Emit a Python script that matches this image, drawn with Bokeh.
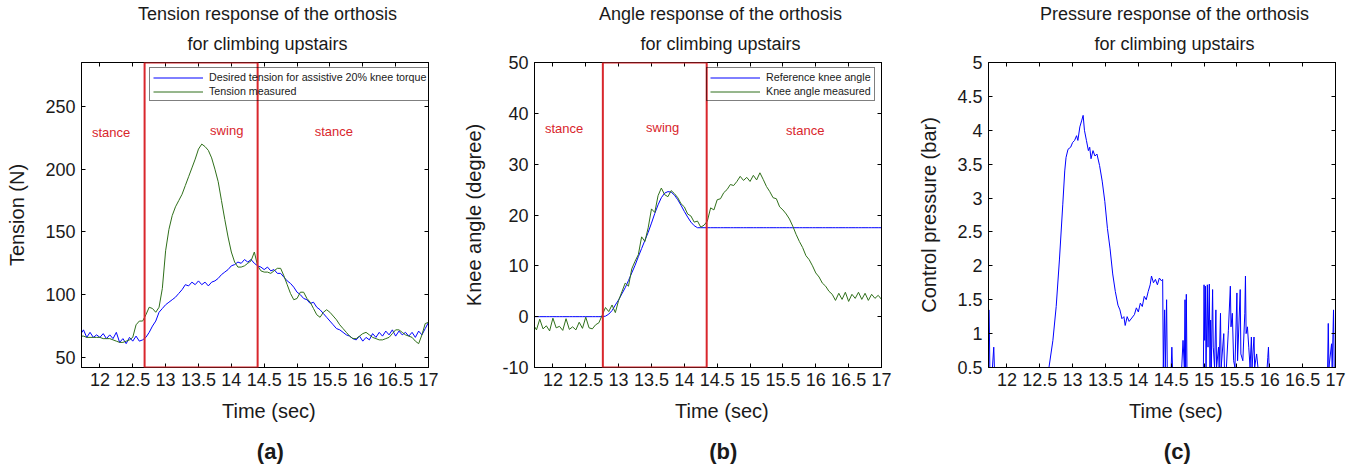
import numpy as np
from bokeh.plotting import figure
from bokeh.models import (LinearAxis, Title, Label, BoxAnnotation, Legend, LegendItem,
                          FixedTicker, NumeralTickFormatter, Range1d, CustomJSTickFormatter)
from bokeh.layouts import row
from bokeh.embed import file_html
from bokeh.resources import INLINE

FONT = "Liberation Sans"

# ---------------- data ----------------
SAMPLE_START, SAMPLE_END, SAMPLE_STEP = 11.70, 17.00, 0.05
time_s = np.round(np.arange(SAMPLE_START, SAMPLE_END + 1e-9, SAMPLE_STEP), 2)

tension_desired = [
    68, 72, 66, 70, 66, 68, 66, 69, 65, 68,
    65, 70, 62, 65, 61, 66, 63, 67, 63, 64,
    66, 70, 75, 79, 86, 89, 92, 94, 96, 98,
    101, 104, 108, 107, 110, 108, 111, 108, 110, 107,
    110, 111, 113, 116, 118, 120, 123, 124, 126, 125,
    128, 126, 128, 125, 123, 122, 120, 122, 119, 120,
    117, 117, 114, 111, 109, 106, 102, 100, 97, 96,
    93, 94, 90, 88, 85, 82, 79, 76, 73, 72,
    70, 68, 67, 65, 64, 67, 63, 66, 64, 69,
    66, 70, 67, 71, 68, 72, 67, 71, 68, 70,
    67, 70, 66, 71, 68, 73, 78]

tension_measured = [
    67, 67, 66, 66, 66, 66, 66, 65, 65, 65,
    64, 63, 62, 62, 63, 64, 66, 76, 79, 79,
    84, 90, 89, 86, 90, 105, 135, 152, 163, 170,
    175, 180, 187, 194, 201, 208, 216, 220, 218, 215,
    209, 200, 190, 175, 160, 146, 134, 126, 122, 122,
    123, 125, 127, 134, 123, 119, 118, 118, 117, 119,
    121, 121, 115, 108, 101, 96, 97, 102, 102, 97,
    94, 89, 84, 82, 86, 88, 86, 83, 80, 76,
    73, 70, 67, 65, 65, 67, 69, 70, 68, 66,
    65, 64, 64, 65, 66, 69, 72, 72, 70, 68,
    67, 66, 63, 61, 68, 77, 78]

angle_reference = [
    0, 0, 0, 0, 0, 0, 0, 0, 0, 0,
    0, 0, 0, 0, 0, 0, 0, 0, 0, 0,
    0, 0, 0.1, 0.5, 1.2, 2.3, 3.3, 4.5, 5.7, 7.1,
    8.6, 10.1, 11.8, 13.4, 15.0, 16.6, 18.4, 20.3, 22.0, 23.4,
    24.3, 24.6, 24.5, 23.9, 23.0, 21.9, 20.7, 19.6, 18.6, 17.9,
    17.5, 17.5, 17.5, 17.5, 17.5, 17.5, 17.5, 17.5, 17.5, 17.5,
    17.5, 17.5, 17.5, 17.5, 17.5, 17.5, 17.5, 17.5, 17.5, 17.5,
    17.5, 17.5, 17.5, 17.5, 17.5, 17.5, 17.5, 17.5, 17.5, 17.5,
    17.5, 17.5, 17.5, 17.5, 17.5, 17.5, 17.5, 17.5, 17.5, 17.5,
    17.5, 17.5, 17.5, 17.5, 17.5, 17.5, 17.5, 17.5, 17.5, 17.5,
    17.5, 17.5, 17.5, 17.5, 17.5, 17.5, 17.5]

angle_measured = [
    -1.5, -2.6, -0.5, -2.4, -1.8, -2.8, -0.3, -2.2, -1.9, -2.7,
    -0.4, -2.5, -2.0, -2.6, -1.1, -2.3, -0.1, -2.2, -2.4, -1.6,
    -1.2, 0.3, 1.8, 1.0, 2.3, 0.8, 3.2, 4.9, 6.6, 6.0,
    9.4, 10.9, 12.2, 15.7, 14.8, 17.5, 21.2, 20.5, 23.8, 25.3,
    24.0, 23.6, 24.8, 24.2, 23.4, 22.2, 21.6, 20.2, 19.8, 18.6,
    18.8, 17.6, 18.0, 18.8, 21.4, 21.0, 23.0, 23.2, 24.4, 25.0,
    26.0, 25.8, 26.6, 27.6, 26.8, 27.4, 26.6, 27.8, 26.9, 28.3,
    27.0, 25.6, 24.6, 23.4, 23.2, 21.6, 21.0, 20.2, 19.2, 17.8,
    16.2, 14.8, 13.6, 12.0, 11.2, 10.0, 8.6, 7.8, 6.6, 6.0,
    5.0, 4.4, 3.2, 4.6, 3.4, 4.8, 3.0, 4.4, 3.6, 4.8,
    3.4, 4.6, 3.2, 4.4, 3.6, 4.2, 3.4]

pressure_time = [
    11.73, 11.74, 11.76, 11.78, 11.80, 11.81, 12.64, 12.70, 12.75, 12.80,
    12.85, 12.88, 12.90, 12.93, 12.97, 13.00, 13.03, 13.06, 13.08, 13.11,
    13.14, 13.16, 13.18, 13.21, 13.24, 13.26, 13.28, 13.31, 13.34, 13.37,
    13.41, 13.45, 13.49, 13.53, 13.57, 13.61, 13.65, 13.69, 13.72, 13.75,
    13.78, 13.80, 13.83, 13.86, 13.90, 13.94, 13.97, 14.00, 14.03, 14.06,
    14.09, 14.12, 14.15, 14.18, 14.20, 14.23, 14.26, 14.29, 14.32, 14.35,
    14.37, 14.38, 14.40, 14.41, 14.43, 14.44, 14.50, 14.51, 14.52, 14.66,
    14.68, 14.70, 14.71, 14.72, 14.73, 14.74, 14.99, 15.00, 15.01, 15.02,
    15.03, 15.05, 15.06, 15.08, 15.09, 15.10, 15.11, 15.13, 15.14, 15.16,
    15.18, 15.19, 15.22, 15.23, 15.25, 15.26, 15.30, 15.31, 15.34, 15.37,
    15.40, 15.41, 15.43, 15.45, 15.47, 15.50, 15.51, 15.55, 15.56, 15.59,
    15.62, 15.63, 15.64, 15.66, 15.68, 15.70, 15.72, 15.73, 15.76, 15.77,
    15.80, 15.82, 15.96, 15.97, 15.98, 15.99, 16.88, 16.89, 16.90, 16.94,
    16.95, 16.97, 16.98, 17.00]
pressure_bar = [
    1.35, 0.5, 0.5, 0.5, 0.8, 0.5, 0.5, 0.9, 1.4, 2.1,
    2.9, 3.4, 3.6, 3.72, 3.75, 3.82, 3.85, 3.92, 3.85, 4.05,
    4.15, 4.22, 4.0, 3.85, 3.7, 3.75, 3.58, 3.7, 3.62, 3.65,
    3.48, 3.25, 2.95, 2.55, 2.25, 1.88, 1.62, 1.42, 1.35, 1.22,
    1.25, 1.12, 1.25, 1.18, 1.23, 1.28, 1.38, 1.32, 1.45, 1.40,
    1.55, 1.50, 1.62, 1.72, 1.85, 1.75, 1.80, 1.72, 1.82, 1.78,
    1.80, 0.5, 1.35, 0.5, 1.5, 0.5, 0.5, 0.8, 0.5, 0.5,
    0.9, 0.5, 1.5, 0.5, 1.58, 0.5, 0.5, 1.72, 0.9, 1.7,
    0.5, 1.72, 0.8, 1.73, 0.5, 1.2, 0.5, 1.65, 0.8, 0.5,
    1.35, 0.5, 0.8, 0.5, 1.3, 0.5, 1.0, 0.5, 0.5, 1.05,
    1.7, 1.1, 1.3, 0.6, 0.5, 1.6, 0.6, 1.65, 0.7, 0.6,
    1.3, 1.85, 1.0, 1.1, 0.8, 0.5, 0.95, 0.5, 0.95, 0.5,
    0.7, 0.5, 0.5, 0.65, 0.8, 0.5, 0.5, 1.15, 0.5, 0.85,
    0.5, 1.35, 0.5, 0.5]

x_ticks = [12, 12.5, 13, 13.5, 14, 14.5, 15, 15.5, 16, 16.5, 17]
x_limits = (11.72, 17.0)

swing_a = (12.68, 14.40)
swing_b = (12.76, 14.34)
phase_labels = ["stance", "swing", "stance"]
phase_x_a = [12.17, 13.93, 15.56]
phase_y_a = [229, 231, 230]
phase_x_b = [12.17, 13.67, 15.84]
phase_y_b = [37, 37.2, 36.6]

BLUE = "#0000FF"
GREEN = "#2F6F1A"
RED = "#D9262C"
TXT = "#1a1a1a"

FRAME_W = 347
PAD = "\u00a0" * 5   # leading no-break spaces: shifts centred titles slightly right, as in the original


def title(text, size, standoff, style="normal"):
    return Title(text=PAD + text, align="center", text_font=FONT, text_font_size=size,
                 text_font_style=style, text_color=TXT, standoff=standoff)


def make_fig(title1, title2, ylabel, ylim, yticks, letter, left_border, right_border):
    p = figure(width=left_border + FRAME_W + right_border, height=471,
               x_range=Range1d(*x_limits), y_range=Range1d(*ylim),
               output_backend="svg", toolbar_location=None, title=None,
               min_border_left=left_border, min_border_right=right_border,
               min_border_top=62, min_border_bottom=104)
    p.grid.visible = False
    p.outline_line_color = "black"
    p.background_fill_color = "white"
    p.border_fill_color = "white"
    for ax in p.xaxis:
        ax.ticker = FixedTicker(ticks=x_ticks)
        ax.formatter = NumeralTickFormatter(format="0.[0]")
        ax.major_label_standoff = 5
    for ax in p.yaxis:
        ax.ticker = FixedTicker(ticks=yticks)
        ax.formatter = NumeralTickFormatter(format="0.[0]")
        ax.axis_label = ylabel
        ax.axis_label_text_font = FONT
        ax.axis_label_text_font_size = "20px"
        ax.axis_label_text_font_style = "normal"
        ax.axis_label_text_color = TXT
        ax.axis_label_standoff = 14
        ax.major_label_standoff = 6
    for ax in list(p.xaxis) + list(p.yaxis):
        ax.major_tick_in = 4
        ax.major_tick_out = 0
        ax.minor_tick_line_color = None
        ax.axis_line_color = "black"
        ax.major_label_text_font = FONT
        ax.major_label_text_font_size = "18px"
        ax.major_label_text_color = TXT
    # box ticks on top / right (no labels)
    blank = CustomJSTickFormatter(code="return ''")
    top = LinearAxis(ticker=FixedTicker(ticks=x_ticks), formatter=blank,
                     major_tick_in=4, major_tick_out=0, minor_tick_line_color=None,
                     major_label_standoff=0)
    right = LinearAxis(ticker=FixedTicker(ticks=yticks), formatter=blank,
                       major_tick_in=4, major_tick_out=0, minor_tick_line_color=None,
                       major_label_standoff=0)
    p.add_layout(top, "above")
    p.add_layout(right, "right")
    p.add_layout(title(title2, "18px", 17), "above")
    p.add_layout(title(title1, "18px", 0), "above")
    p.add_layout(title("Time (sec)", "20px", 18), "below")
    p.add_layout(title(letter, "22px", 13, "bold"), "below")
    return p


def add_phases(p, swing, xs, ys):
    p.add_layout(BoxAnnotation(left=swing[0], right=swing[1], fill_alpha=0,
                               line_color=RED, line_alpha=1, line_width=2))
    for lab, x, y in zip(phase_labels, xs, ys):
        p.add_layout(Label(x=x, y=y, text=lab, text_align="center", text_baseline="middle",
                           text_font=FONT, text_font_size="13px", text_color=RED))


def add_legend(p, items, loc):
    lg = Legend(items=items, location=loc, label_text_font=FONT, label_text_font_size="10.7px",
                label_text_color=TXT, glyph_width=50, glyph_height=11, label_height=11,
                spacing=2, padding=3, margin=0, label_standoff=6,
                border_line_color="black", border_line_width=1.5,
                background_fill_alpha=0)
    p.add_layout(lg)


# Panel (a)
pa = make_fig("Tension response of the orthosis", "for climbing upstairs", "Tension (N)",
              (42, 285), [50, 100, 150, 200, 250], "(a)", 81, 25)
ra1 = pa.line(time_s, tension_desired, line_color=BLUE, line_width=1)
ra2 = pa.line(time_s, tension_measured, line_color=GREEN, line_width=1)
add_phases(pa, swing_a, phase_x_a, phase_y_a)
add_legend(pa, [LegendItem(label="Desired tension for assistive 20% knee torque", renderers=[ra1]),
                LegendItem(label="Tension measured", renderers=[ra2])], (68, 266))

# Panel (b)
pb = make_fig("Angle response of the orthosis", "for climbing upstairs", "Knee angle (degree)",
              (-10, 50), [-10, 0, 10, 20, 30, 40, 50], "(b)", 81, 25)
rb1 = pb.line(time_s, angle_reference, line_color=BLUE, line_width=1)
rb2 = pb.line(time_s, angle_measured, line_color=GREEN, line_width=1)
add_phases(pb, swing_b, phase_x_b, phase_y_b)
add_legend(pb, [LegendItem(label="Reference knee angle", renderers=[rb1]),
                LegendItem(label="Knee angle measured", renderers=[rb2])], (172, 266))

# Panel (c)
pc = make_fig("Pressure response of the orthosis", "for climbing upstairs", "Control pressure (bar)",
              (0.5, 5), [0.5, 1, 1.5, 2, 2.5, 3, 3.5, 4, 4.5, 5], "(c)", 82, 24)
pc.line(pressure_time, pressure_bar, line_color=BLUE, line_width=1)

layout = row(pa, pb, pc)
open("out.html", "w").write(file_html(layout, INLINE))
